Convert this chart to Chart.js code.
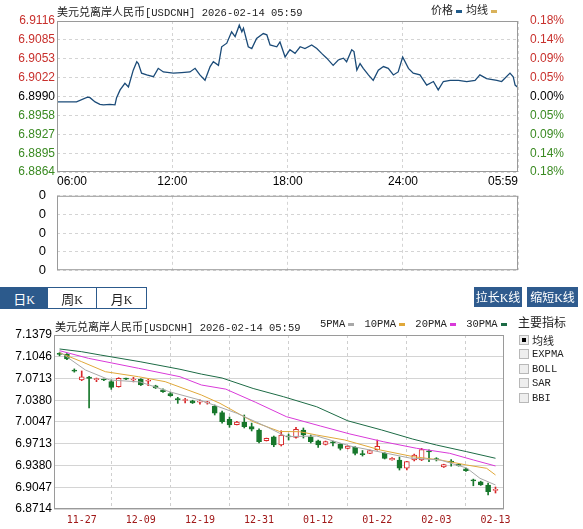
<!DOCTYPE html>
<html>
<head>
<meta charset="utf-8">
<script src="https://cdn.jsdelivr.net/npm/chart.js@4.4.1/dist/chart.umd.min.js"></script>
<style>
body { margin:0; width:583px; height:529px; background:#fff; position:relative; overflow:hidden; font-family:"Noto Sans CJK SC", sans-serif; color:#222; }
canvas { position:absolute; left:0; }
.t { position:absolute; white-space:nowrap; line-height:12px; }
.cjk { font-family:"Noto Sans CJK SC"; font-size:11px; }
.mono { font-family:"Liberation Mono", monospace; font-size:10.5px; }
.sw { display:inline-block; width:6px; height:3px; vertical-align:middle; margin:0 4px 0 3px; }
.tab { position:absolute; top:287px; height:22px; line-height:21px; box-sizing:border-box; border:1px solid #2c5a8c; text-align:center; font-size:13px; background:#fff; color:#222; }
.tab.on { background:#2c5a8c; color:#fff; }
.tab i, .btn i { font-style:normal; font-family:"Liberation Serif", serif; font-size:12px; }
.btn { position:absolute; top:287px; height:20px; line-height:20px; background:#2f5b8e; color:#fff; font-size:12px; text-align:center; }
.cb { position:absolute; left:519px; width:8px; height:8px; border:1px solid #b8b8b8; background:#eee; }
.cb.on::after { content:""; position:absolute; left:2px; top:2px; width:4px; height:4px; background:#000; }
.ci { position:absolute; left:532px; font-family:"Liberation Mono", monospace; font-size:10.5px; line-height:12px; }
</style>
</head>
<body>
<canvas id="c2" width="583" height="112" style="top:177px"></canvas>
<canvas id="c1" width="583" height="190" style="top:0"></canvas>
<canvas id="c3" width="583" height="219" style="top:310px"></canvas>

<div class="t" style="left:57px;top:3px"><span class="cjk">美元兑离岸人民币</span><span class="mono">[USDCNH] 2026-02-14 05:59</span></div>
<div class="t cjk" style="left:431px;top:3px">价格<span class="sw" style="background:#1f5a8a"></span>均线<span class="sw" style="background:#d9b25a"></span></div>

<div class="tab on" style="left:0;width:48px">日<i>K</i></div>
<div class="tab" style="left:47px;width:50px">周<i>K</i></div>
<div class="tab" style="left:96px;width:51px">月<i>K</i></div>
<div class="btn" style="left:474px;width:48px">拉长<i>K</i>线</div>
<div class="btn" style="left:527px;width:51px">缩短<i>K</i>线</div>

<div class="t" style="left:55px;top:318px"><span class="cjk">美元兑离岸人民币</span><span class="mono">[USDCNH] 2026-02-14 05:59</span></div>
<div class="t mono" style="left:320px;top:318px">5PMA<span class="sw" style="background:#a8a8a8"></span> 10PMA<span class="sw" style="background:#e0a83a"></span> 20PMA<span class="sw" style="background:#d93ad9"></span> 30PMA<span class="sw" style="background:#1d6b45"></span></div>
<div class="t" style="left:518px;top:315px;font-size:12px;line-height:14px">主要指标</div>
<div class="cb on" style="top:335px"></div><div class="t cjk" style="left:532px;top:334px">均线</div>
<div class="cb" style="top:349px"></div><div class="ci" style="top:348px">EXPMA</div>
<div class="cb" style="top:364px"></div><div class="ci" style="top:363px">BOLL</div>
<div class="cb" style="top:378px"></div><div class="ci" style="top:377px">SAR</div>
<div class="cb" style="top:393px"></div><div class="ci" style="top:392px">BBI</div>

<script>
// intraday, minutes after 06:00
const timeMin = [1,61,95,103,119,134,145,165,181,186,
  197,212,223,238,249,254,264,280,301,316,
  332,363,389,415,431,446,462,478,488,504,
  514,530,545,556,569,577,582,597,608,623,
  644,655,665,686,696,712,727,743,759,774,
  795,811,826,842,862,878,894,904,920,927,
  936,946,956,972,987,1003,1019,1034,1050,1065,
  1079,1097,1112,1133,1154,1175,1190,1206,1227,1253,
  1279,1305,1320,1341,1373,1388,1414,1424,1430,1437];
const price = [6.8981,6.8981,6.8989,6.8988,6.8981,6.8977,6.8976,6.8977,6.8976,6.8988,
  6.9001,6.9012,6.9006,6.9034,6.9048,6.9045,6.9029,6.9026,6.9023,6.9037,
  6.9031,6.9029,6.9030,6.9031,6.9037,6.9026,6.9017,6.9040,6.9048,6.9042,
  6.9073,6.9079,6.9098,6.9090,6.9109,6.9098,6.9104,6.9073,6.9070,6.9087,
  6.9095,6.9093,6.9076,6.9073,6.9081,6.9056,6.9068,6.9062,6.9073,6.9070,
  6.9076,6.9070,6.9062,6.9054,6.9042,6.9051,6.9054,6.9048,6.9068,6.9065,
  6.9034,6.9045,6.9037,6.9026,6.9017,6.9034,6.9040,6.9037,6.9026,6.9031,
  6.9056,6.9037,6.9029,6.9026,6.9009,6.9015,6.9001,6.9015,6.9017,6.9017,
  6.9015,6.9017,6.9026,6.9020,6.9017,6.9015,6.9029,6.9023,6.9009,6.9006];
const priceTicks = [6.8864,6.8895,6.8927,6.8958,6.8990,6.9022,6.9053,6.9085,6.9116];
const pctTicks = ['0.18%','0.14%','0.09%','0.05%','0.00%','0.05%','0.09%','0.14%','0.18%'];
const timeTicks = [0,360,720,1080,1439];
const timeLabels = ['06:00','12:00','18:00','24:00','05:59'];

// daily candles
const dates = ['11-24','11-25','11-26','11-27','11-28','12-01','12-02','12-03','12-04','12-05',
  '12-08','12-09','12-10','12-11','12-12','12-15','12-16','12-17','12-18','12-19',
  '12-22','12-23','12-24','12-25','12-26','12-29','12-30','12-31','01-01','01-02',
  '01-05','01-06','01-07','01-08','01-09','01-12','01-13','01-14','01-15','01-16',
  '01-19','01-20','01-21','01-22','01-23','01-26','01-27','01-28','01-29','01-30',
  '02-02','02-03','02-04','02-05','02-06','02-09','02-10','02-11','02-12','02-13'];
const open = [7.1086,7.1088,7.0834,7.0690,7.0736,7.0695,7.0695,7.0664,7.0587,7.0710,
  7.0690,7.0700,7.0670,7.0600,7.0540,7.0480,7.0395,7.0376,7.0370,7.0350,
  7.0340,7.0292,7.0189,7.0088,7.0005,7.0042,6.9975,6.9924,6.9760,6.9821,
  6.9694,6.9826,6.9812,6.9924,6.9821,6.9760,6.9704,6.9732,6.9705,6.9643,
  6.9659,6.9553,6.9567,6.9623,6.9567,6.9465,6.9465,6.9338,6.9465,6.9465,
  6.9600,6.9480,6.9359,6.9438,6.9400,6.9330,6.9150,6.9132,6.9082,6.9000];
const high = [7.1110,7.1095,7.0860,7.0828,7.0745,7.0720,7.0705,7.0690,7.0725,7.0720,
  7.0730,7.0710,7.0700,7.0610,7.0555,7.0500,7.0424,7.0410,7.0380,7.0385,
  7.0362,7.0307,7.0215,7.0123,7.0055,7.0154,7.0030,6.9940,6.9800,6.9832,
  6.9913,6.9862,6.9965,6.9955,6.9847,6.9771,6.9755,6.9755,6.9715,6.9690,
  6.9670,6.9610,6.9615,6.9771,6.9580,6.9500,6.9510,6.9445,6.9555,6.9643,
  6.9620,6.9500,6.9400,6.9470,6.9410,6.9340,6.9172,6.9140,6.9112,6.9051];
const low = [7.1060,7.1000,7.0810,7.0679,7.0261,7.0664,7.0680,7.0547,7.0580,7.0695,
  7.0660,7.0605,7.0603,7.0560,7.0500,7.0440,7.0332,7.0340,7.0330,7.0320,
  7.0320,7.0154,7.0027,6.9966,7.0000,6.9955,6.9909,6.9725,6.9755,6.9668,
  6.9679,6.9770,6.9797,6.9801,6.9725,6.9659,6.9694,6.9679,6.9618,6.9635,
  6.9541,6.9525,6.9560,6.9615,6.9480,6.9460,6.9311,6.9311,6.9450,6.9455,
  6.9440,6.9450,6.9350,6.9370,6.9370,6.9290,6.9070,6.9075,6.8929,6.8959];
const close = [7.1083,7.1011,7.0826,7.0740,7.0713,7.0700,7.0690,7.0578,7.0716,7.0702,
  7.0697,7.0613,7.0680,7.0570,7.0510,7.0450,7.0390,7.0386,7.0340,7.0360,
  7.0350,7.0180,7.0051,7.0001,7.0047,6.9975,6.9935,6.9745,6.9797,6.9694,
  6.9847,6.9818,6.9935,6.9847,6.9745,6.9694,6.9745,6.9726,6.9643,6.9679,
  6.9567,6.9547,6.9608,6.9675,6.9490,6.9490,6.9338,6.9439,6.9541,6.9623,
  6.9590,6.9470,6.9394,6.9432,6.9380,6.9300,6.9145,6.9082,6.8979,6.9010];
// moving averages: [candle index, value]
const ma5 = [[0,7.1123],[3.5,7.0843],[6.8,7.0690],[10.9,7.0660],[15,7.0506],[19,7.0383],[24,7.0180],[28,6.9975],[30.7,6.9822],[34.8,6.9832],[39.3,6.9679],[43.4,6.9587],[47.4,6.9495],[51.5,6.9465],[55.1,6.9342],[56.9,6.9184],[59,6.9082]];
const ma10 = [[0,7.1108],[3,7.0970],[6.2,7.0817],[10.7,7.0740],[14.3,7.0664],[19.2,7.0460],[21.7,7.0333],[26.2,7.0051],[29.8,6.9901],[32.5,6.9898],[34.8,6.9847],[38.6,6.9771],[40.2,6.9720],[43.4,6.9618],[47.9,6.9515],[51.5,6.9465],[55.1,6.9388],[57.8,6.9337],[59,6.9235]];
const ma20 = [[0,7.1139],[3.9,7.1022],[10.7,7.0869],[16.3,7.0740],[19.2,7.0613],[22.5,7.0550],[26.5,7.0350],[30.7,7.0128],[35.3,6.9985],[39.3,6.9863],[43.8,6.9745],[48.3,6.9644],[52.8,6.9567],[56,6.9465],[59,6.9373]];
const ma30 = [[0,7.1165],[3,7.1123],[5.5,7.1073],[10.9,7.0970],[16.3,7.0854],[19.2,7.0780],[22,7.0720],[26.2,7.0560],[30.3,7.0434],[34.8,7.0280],[39,7.0065],[43.6,6.9924],[47.8,6.9785],[51,6.9694],[55.1,6.9592],[59,6.9491]];
const kTicks = [6.8714,6.9047,6.9380,6.9713,7.0047,7.0380,7.0713,7.1046,7.1379];
const dateTicks = ['11-27','12-09','12-19','12-31','01-12','01-22','02-03','02-13'];

const RED = '#c8302c', GREEN = '#3a8a22';
const UP = '#d8282a', DOWN = '#17772b';
const tickFont = { family: 'Liberation Sans', size: 12 };

const framePlugin = {
    id: 'frame',
    afterDraw(chart) {
        const a = chart.chartArea, c = chart.ctx;
        c.save();
        c.strokeStyle = '#9a9a9a';
        c.lineWidth = 1;
        c.strokeRect(a.left + 0.5, a.top + 0.5, a.right - a.left - 1, a.bottom - a.top - 1);
        c.restore();
    }
};
Chart.register(framePlugin);
Chart.defaults.animation = false;
Chart.defaults.plugins.legend.display = false;
Chart.defaults.plugins.tooltip.enabled = false;

function sideColor(ctx) {
    if (ctx.index < 4) return GREEN;
    if (ctx.index > 4) return RED;
    return '#000';
}

// intraday
new Chart(document.getElementById('c1'), {
    type: 'line',
    data: {
        datasets: [{
            data: timeMin.map((t, i) => ({ x: t, y: price[i] })),
            borderColor: '#1b4b78',
            borderWidth: 1.3,
            pointRadius: 0,
            tension: 0,
        }],
    },
    options: {
        responsive: false,
        layout: { padding: { top: 21 } },
        scales: {
            x: {
                type: 'linear', min: 0, max: 1439,
                afterBuildTicks: s => { s.ticks = timeTicks.map(v => ({ value: v })); },
                afterFit: s => { s.height = 18; },
                ticks: { align: 'inner', autoSkip: false, maxRotation: 0, padding: 2, color: '#000', font: tickFont,
                    callback: (v, i) => timeLabels[i] },
                grid: { color: '#d4d4d4', drawTicks: false },
                border: { display: false, dash: [3, 3] },
            },
            y: {
                position: 'left', min: priceTicks[0], max: priceTicks[8],
                afterBuildTicks: s => { s.ticks = priceTicks.map(v => ({ value: v })); },
                afterFit: s => { s.width = 57; },
                ticks: { autoSkip: false, padding: 2, color: sideColor, font: tickFont, callback: v => v.toFixed(4) },
                grid: { color: '#d4d4d4', drawTicks: false },
                border: { display: false, dash: [3, 3] },
            },
            y2: {
                position: 'right', min: priceTicks[0], max: priceTicks[8],
                afterBuildTicks: s => { s.ticks = priceTicks.map(v => ({ value: v })); },
                afterFit: s => { s.width = 65; },
                ticks: { autoSkip: false, padding: 4, color: sideColor, font: tickFont, callback: (v, i) => pctTicks[i] },
                grid: { display: false },
                border: { display: false },
            },
        },
    },
});

// empty volume panel
new Chart(document.getElementById('c2'), {
    type: 'line',
    data: { datasets: [{ data: [] }] },
    options: {
        responsive: false,
        layout: { padding: { top: 6, right: 65 } },
        scales: {
            x: {
                type: 'linear', min: 0, max: 1439,
                afterBuildTicks: s => { s.ticks = timeTicks.map(v => ({ value: v })); },
                afterFit: s => { s.height = 10; },
                ticks: { display: false },
                grid: { color: '#d4d4d4', drawTicks: false },
                border: { display: false, dash: [3, 3] },
            },
            y: {
                min: 0, max: 4,
                afterBuildTicks: s => { s.ticks = [0, 1, 2, 3, 4].map(v => ({ value: v })); },
                afterFit: s => { s.width = 57; },
                ticks: { autoSkip: false, padding: 11, color: '#000', font: { family: 'Liberation Sans', size: 13 }, callback: () => '0' },
                grid: { color: '#d4d4d4', drawTicks: false },
                border: { display: false, dash: [3, 3] },
            },
        },
    },
});

// daily K
const up = i => close[i] >= open[i];
const maLine = (pts, color) => ({
    type: 'line',
    data: pts.map(p => ({ x: p[0], y: p[1] })),
    borderColor: color, borderWidth: 1, pointRadius: 0, tension: 0, order: 0,
});
new Chart(document.getElementById('c3'), {
    type: 'bar',
    data: {
        datasets: [
            {
                data: dates.map((d, i) => ({ x: i, y: [Math.min(open[i], close[i]), Math.max(open[i], close[i])] })),
                backgroundColor: c => up(c.dataIndex) ? '#fff' : DOWN,
                borderColor: c => up(c.dataIndex) ? UP : DOWN,
                borderWidth: 1, borderSkipped: false, barThickness: 5, minBarLength: 1,
                grouped: false, order: 1,
            },
            {
                data: dates.map((d, i) => ({ x: i, y: [low[i], high[i]] })),
                backgroundColor: c => up(c.dataIndex) ? UP : DOWN,
                borderWidth: 0, barThickness: 1, grouped: false, order: 2,
            },
            maLine(ma5, '#a8a8a8'),
            maLine(ma10, '#e0a83a'),
            maLine(ma20, '#d93ad9'),
            maLine(ma30, '#1d6b45'),
        ],
    },
    options: {
        responsive: false,
        layout: { padding: { top: 25, right: 79 } },
        scales: {
            x: {
                type: 'linear', min: -0.75, max: 60.15, offset: false,
                afterBuildTicks: s => { s.ticks = dateTicks.map(d => ({ value: dates.indexOf(d) })); },
                afterFit: s => { s.height = 20; },
                ticks: { autoSkip: false, maxRotation: 0, padding: 5, color: '#a01818',
                    font: { family: 'DejaVu Sans Mono', size: 10 }, callback: v => dates[v] },
                grid: { color: '#cfcfcf', drawTicks: false },
                border: { display: false, dash: [3, 3] },
            },
            y: {
                min: kTicks[0], max: kTicks[8],
                afterBuildTicks: s => { s.ticks = kTicks.map(v => ({ value: v })); },
                afterFit: s => { s.width = 54; },
                ticks: { autoSkip: false, padding: 2, color: '#000', font: tickFont, callback: v => v.toFixed(4) },
                grid: { color: '#d4d4d4', drawTicks: false },
                border: { display: false },
            },
        },
    },
});
</script>
</body>
</html>
